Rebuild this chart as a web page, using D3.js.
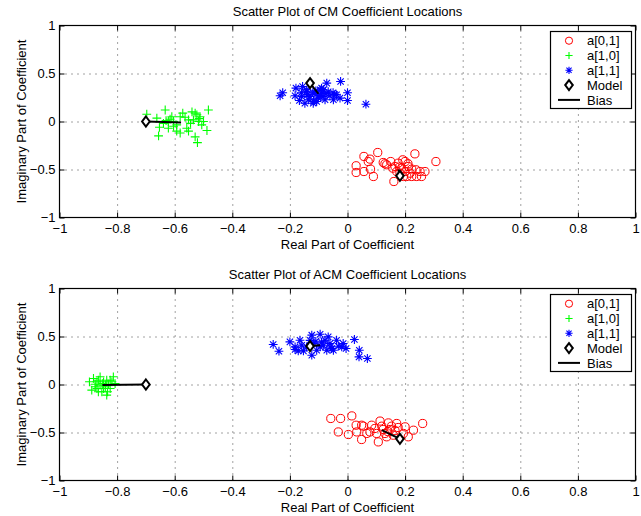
<!DOCTYPE html>
<html><head><meta charset="utf-8">
<script src="https://cdn.jsdelivr.net/npm/d3@7"></script>
<style>body{margin:0;background:#fff} text{font-family:"Liberation Sans",Arial,Helvetica,sans-serif}</style>
</head><body><svg id="c" width="641" height="516"></svg>
<script>
// ---------- data ----------
const xTicks = [-1,-0.8,-0.6,-0.4,-0.2,0,0.2,0.4,0.6,0.8,1];
const xTickLabels = ["\u22121","\u22120.8","\u22120.6","\u22120.4","\u22120.2","0","0.2","0.4","0.6","0.8","1"];
const yTicks = [-1,-0.5,0,0.5,1];
const yTickLabels = ["\u22121","\u22120.5","0","0.5","1"];
const seriesNames = ["a[0,1]","a[1,0]","a[1,1]"];
const legendNames = ["a[0,1]","a[1,0]","a[1,1]","Model","Bias"];
const titles = ["Scatter Plot of CM Coefficient Locations","Scatter Plot of ACM Coefficient Locations"];
const xLabel = "Real Part of Coefficient";
const yLabel = "Imaginary Part of Coefficient";
// model coefficients (re, im) for a[0,1], a[1,0], a[1,1]
const modelPoints = [[0.182,-0.566],[-0.70,0.0],[-0.13,0.40]];

// CM estimates
const cmA01 = [[0.030,-0.461],[0.030,-0.531],[0.057,-0.364],[0.057,-0.521],[0.072,-0.417],[0.078,-0.392],
  [0.080,-0.496],[0.090,-0.573],[0.105,-0.323],[0.124,-0.427],[0.136,-0.451],[0.150,-0.417],[0.165,-0.469],
  [0.161,-0.625],[0.176,-0.434],[0.188,-0.486],[0.200,-0.417],[0.200,-0.521],[0.211,-0.469],[0.217,-0.538],
  [0.223,-0.496],[0.234,-0.337],[0.238,-0.503],[0.252,-0.521],[0.257,-0.573],[0.269,-0.521],[0.307,-0.417],
  [0.182,-0.538],[0.194,-0.573],[0.171,-0.521],[0.206,-0.573],[0.223,-0.573],[0.192,-0.399],[0.180,-0.475],
  [0.157,-0.486],[0.240,-0.573],[0.130,-0.440],[0.210,-0.440]];
const cmA10 = [[-0.697,0.076],[-0.633,0.120],[-0.662,0.035],[-0.653,-0.060],[-0.656,-0.150],[-0.639,-0.020],
  [-0.622,-0.070],[-0.616,0.024],[-0.610,0.050],[-0.604,0.000],[-0.593,-0.035],[-0.581,0.050],[-0.581,-0.120],
  [-0.564,0.045],[-0.558,-0.070],[-0.552,-0.100],[-0.540,0.100],[-0.535,0.017],[-0.523,0.070],[-0.517,0.000],
  [-0.512,0.050],[-0.506,-0.035],[-0.500,0.000],[-0.483,0.120],[-0.488,-0.094],[-0.529,-0.160],[-0.521,-0.220],
  [-0.593,-0.100],[-0.572,0.087],[-0.529,0.087],[-0.552,0.017],[-0.622,0.000],[-0.604,-0.050],[-0.630,0.010],
  [-0.545,-0.020],[-0.515,0.030]];
const cmA11 = [[-0.234,0.268],[-0.225,0.300],[-0.179,0.348],[-0.156,0.365],[-0.182,0.268],[-0.167,0.219],
  [-0.148,0.190],[-0.119,0.190],[-0.101,0.244],[-0.090,0.348],[-0.072,0.400],[-0.061,0.268],[-0.038,0.278],
  [-0.024,0.417],[0.000,0.300],[0.000,0.219],[0.064,0.180],[-0.130,0.260],[-0.113,0.296],[-0.078,0.226],
  [-0.049,0.226],[-0.142,0.310],[-0.159,0.260],[-0.090,0.296],[-0.067,0.310],[-0.107,0.208],[-0.136,0.226],
  [-0.026,0.244],[-0.095,0.330],[-0.141,0.330],[-0.118,0.210],[-0.084,0.330],[-0.044,0.280],[-0.120,0.300],
  [-0.100,0.270],[-0.085,0.260],[-0.140,0.280],[-0.110,0.320],[-0.075,0.290],[-0.050,0.300],[-0.160,0.300]];
const cmBiasEnds = [[0.177,-0.500],[-0.578,-0.010],[-0.101,0.289]];

// ACM estimates
const acmA01 = [[-0.058,-0.354],[-0.024,-0.354],[0.015,-0.327],[-0.032,-0.494],[0.003,-0.521],[0.030,-0.424],
  [0.032,-0.494],[0.049,-0.573],[0.049,-0.424],[0.055,-0.434],[0.078,-0.494],[0.084,-0.424],[0.095,-0.458],
  [0.107,-0.598],[0.113,-0.381],[0.119,-0.434],[0.130,-0.510],[0.142,-0.400],[0.148,-0.469],[0.159,-0.528],
  [0.171,-0.406],[0.176,-0.448],[0.194,-0.510],[0.211,-0.545],[0.229,-0.476],[0.261,-0.406],[0.136,-0.545],
  [0.101,-0.510],[0.067,-0.510],[0.153,-0.434],[0.200,-0.441],[0.124,-0.469],[0.165,-0.480],[0.140,-0.490]];
const acmA10 = [[-0.896,0.028],[-0.882,0.063],[-0.876,0.003],[-0.870,-0.042],[-0.865,0.045],[-0.859,-0.007],
  [-0.853,-0.076],[-0.847,0.028],[-0.841,-0.024],[-0.836,0.045],[-0.830,0.003],[-0.824,-0.042],[-0.813,0.080],
  [-0.836,-0.111],[-0.807,0.010],[-0.888,-0.059],[-0.870,0.028],[-0.859,0.080],[-0.847,-0.042],[-0.833,-0.076],
  [-0.818,0.028],[-0.876,-0.024],[-0.865,-0.076],[-0.824,0.045],[-0.850,0.010],[-0.840,-0.005]];
const acmA11 = [[-0.258,0.417],[-0.238,0.347],[-0.200,0.444],[-0.182,0.392],[-0.182,0.364],[-0.165,0.461],
  [-0.159,0.409],[-0.153,0.350],[-0.124,0.514],[-0.124,0.305],[-0.119,0.427],[-0.095,0.524],[-0.095,0.392],
  [-0.078,0.461],[-0.072,0.357],[-0.061,0.427],[-0.055,0.375],[-0.038,0.461],[-0.032,0.399],[-0.020,0.392],
  [-0.005,0.375],[0.024,0.469],[0.041,0.357],[0.040,0.288],[0.069,0.271],[-0.142,0.392],[-0.107,0.357],
  [-0.084,0.409],[-0.067,0.496],[-0.049,0.357],[-0.015,0.427],[-0.171,0.350],[-0.110,0.450],[-0.090,0.440],
  [-0.130,0.460],[-0.060,0.390]];
const acmBiasEnds = [[0.119,-0.476],[-0.851,-0.005],[-0.095,0.410]];

const panels = [
  {title: titles[0], series: [cmA01, cmA10, cmA11], bias: cmBiasEnds, top: 25.5},
  {title: titles[1], series: [acmA01, acmA10, acmA11], bias: acmBiasEnds, top: 288.5}
];
const seriesColors = ["#ff0000","#00ff00","#0000ff"];

// ---------- drawing ----------
const svg = d3.select("#c");
svg.append("rect").attr("width",641).attr("height",516).attr("fill","#fff");
const left = 59.5, right = 635.5, H = 192, FS = 13;

const plusPath = s => `M${-s},0H${s}M0,${-s}V${s}`;
const starPath = s => { const d = s*0.72; return `M${-s},0H${s}M0,${-s}V${s}M${-d},${-d}L${d},${d}M${-d},${d}L${d},${-d}`; };
const diamondPath = "M0,-5L3.8,0L0,5L-3.8,0Z";

function drawMarker(g, type, x, y, small) {
  const s = small ? 3.6 : 4.4;
  if (type === 0) {
    g.append("circle").attr("cx",x).attr("cy",y).attr("r", small?3.6:4.1)
      .attr("fill","none").attr("stroke",seriesColors[0]).attr("stroke-width",1);
  } else if (type === 1) {
    g.append("path").attr("d",plusPath(s)).attr("transform",`translate(${x},${y})`)
      .attr("fill","none").attr("stroke",seriesColors[1]).attr("stroke-width",1.1);
  } else if (type === 2) {
    g.append("path").attr("d",starPath(s)).attr("transform",`translate(${x},${y})`)
      .attr("fill","none").attr("stroke",seriesColors[2]).attr("stroke-width",1.1);
  } else {
    g.append("path").attr("d",diamondPath).attr("transform",`translate(${x},${y})`)
      .attr("fill","#fff").attr("stroke","#000").attr("stroke-width",2);
  }
}

panels.forEach(p => {
  const top = p.top, bottom = top + H;
  const x = d3.scaleLinear().domain([-1,1]).range([left,right]);
  const y = d3.scaleLinear().domain([-1,1]).range([bottom,top]);
  const g = svg.append("g");

  // grid
  const gx = g.append("g").attr("transform",`translate(0,${bottom})`)
    .call(d3.axisBottom(x).tickValues(xTicks.slice(1,-1)).tickSize(-H).tickFormat(""));
  const gy = g.append("g").attr("transform",`translate(${left},0)`)
    .call(d3.axisLeft(y).tickValues(yTicks.slice(1,-1)).tickSize(-(right-left)).tickFormat(""));
  [gx,gy].forEach(a => { a.select(".domain").remove();
    a.selectAll("line").attr("stroke","#444").attr("stroke-dasharray","1,5"); });

  // axes with inward ticks
  const ab = g.append("g").attr("transform",`translate(0,${bottom})`)
    .call(d3.axisBottom(x).tickValues(xTicks).tickSizeInner(-5).tickSizeOuter(0).tickPadding(6)
      .tickFormat((d,i)=>xTickLabels[i]));
  const at = g.append("g").attr("transform",`translate(0,${top})`)
    .call(d3.axisTop(x).tickValues(xTicks).tickSizeInner(-5).tickSizeOuter(0).tickFormat(""));
  const al = g.append("g").attr("transform",`translate(${left},0)`)
    .call(d3.axisLeft(y).tickValues(yTicks).tickSizeInner(-5).tickSizeOuter(0).tickPadding(4)
      .tickFormat((d,i)=>yTickLabels[i]));
  const ar = g.append("g").attr("transform",`translate(${right},0)`)
    .call(d3.axisRight(y).tickValues(yTicks).tickSizeInner(-5).tickSizeOuter(0).tickFormat(""));
  [ab,at,al,ar].forEach(a => {
    a.select(".domain").remove();
    a.selectAll("line").attr("stroke","#000");
    a.selectAll("text").attr("fill","#000").style("font-size",FS+"px")
      .style("font-family",'"Liberation Sans",Arial,sans-serif');
  });

  // scatter points
  p.series.forEach((pts, si) => {
    pts.forEach(d => drawMarker(g, si, x(d[0]), y(d[1]), false));
  });
  // bias lines
  modelPoints.forEach((m, i) => {
    g.append("line").attr("x1",x(m[0])).attr("y1",y(m[1]))
      .attr("x2",x(p.bias[i][0])).attr("y2",y(p.bias[i][1]))
      .attr("stroke","#000").attr("stroke-width",2);
  });
  // model markers
  modelPoints.forEach(m => drawMarker(g, 3, x(m[0]), y(m[1]), false));

  // frame
  g.append("rect").attr("x",left).attr("y",top).attr("width",right-left).attr("height",H)
    .attr("fill","none").attr("stroke","#000").attr("stroke-width",1.2);

  // titles & labels
  g.append("text").attr("x",(left+right)/2).attr("y",top-9.5).attr("text-anchor","middle")
    .style("font-size",FS+"px").text(p.title);
  g.append("text").attr("x",(left+right)/2).attr("y",bottom+31).attr("text-anchor","middle")
    .style("font-size",FS+"px").text(xLabel);
  g.append("text").attr("transform",`translate(25.5,${(top+bottom)/2}) rotate(-90)`)
    .attr("text-anchor","middle").style("font-size",FS+"px").text(yLabel);

  // legend
  const lx = 550.5, ly = top + 6, lw = 81, lh = 77;
  const lg = g.append("g");
  lg.append("rect").attr("x",lx).attr("y",ly).attr("width",lw).attr("height",lh)
    .attr("fill","#fff").attr("stroke","#000").attr("stroke-width",1.2);
  legendNames.forEach((name, i) => {
    const cy = ly + 9.2 + i*14.8;
    if (i < 4) drawMarker(lg, i, 569, cy, true);
    else lg.append("line").attr("x1",558).attr("x2",580).attr("y1",cy).attr("y2",cy)
      .attr("stroke","#000").attr("stroke-width",2);
    lg.append("text").attr("x",587).attr("y",cy+4.6).style("font-size",FS+"px").text(name);
  });
});
</script></body></html>
